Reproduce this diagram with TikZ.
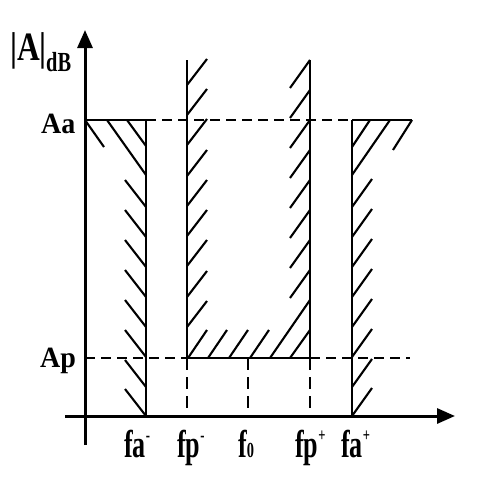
\documentclass[tikz,border=0pt]{standalone}
\usepackage{fontspec}
\setmainfont{Liberation Serif}
\usetikzlibrary{arrows.meta}
\newcommand\flab[1]{\scalebox{0.9}[1.34]{\fontsize{29}{29}\selectfont\bfseries #1}}
\newcommand\supx[1]{\raisebox{0.40em}{\fontsize{14}{14}\selectfont #1}}
\tikzset{
  axis/.style={line width=3pt,-{Triangle[length=18pt,width=15pt]}},
  solid line/.style={line width=2.2pt},
  dash line/.style={line width=2.2pt,dash pattern=on 10pt off 6pt},
  vdash line/.style={line width=1.8pt,dash pattern=on 12pt off 7pt},
  hatch/.style={line width=2.1pt},
  lbl/.style={inner sep=0pt,anchor=base west}
}
\begin{document}
\begin{tikzpicture}[x=1pt,y=-1pt]
\useasboundingbox (0,0) rectangle (490,490);
% key points
\coordinate (ybot) at (85,445);
\coordinate (ytop) at (85,30);
\coordinate (xl) at (65,416);
\coordinate (xr) at (455,416);
\coordinate (AaL) at (85,120);
\coordinate (faT) at (146,120);
\coordinate (faB) at (146,416);
\coordinate (faP) at (352,120);
\coordinate (faPB) at (352,416);
\coordinate (AaR) at (412,120);
\coordinate (fpT) at (187,60);
\coordinate (fpB) at (187,358);
\coordinate (fpA) at (187,416);
\coordinate (fppT) at (310,60);
\coordinate (fppB) at (310,358);
\coordinate (fppA) at (310,416);
\coordinate (f0B) at (248,358);
\coordinate (f0A) at (248,416);
\coordinate (ApL) at (85,358);
\coordinate (ApR) at (410,358);
% axes
\draw[axis] (ybot) -- (ytop);
\draw[axis] (xl) -- (xr);
% Aa level
\draw[solid line] (AaL) -- (faT);
\draw[dash line] (faT) -- (faP);
\draw[solid line] (faP) -- (AaR);
% Ap level
\draw[dash line] (ApL) -- (fpB);
\draw[solid line] (fpB) -- (fppB);
\draw[dash line] (fppB) -- (ApR);
% verticals
\draw[solid line] (faT) -- (faB);
\draw[solid line] (faP) -- (faPB);
\draw[solid line] (fpT) -- (fpB);
\draw[solid line] (fppT) -- (fppB);
\draw[vdash line] (fpB) -- (fpA);
\draw[vdash line] (fppB) -- (fppA);
\draw[vdash line] (f0B) -- (f0A);
% hatches: left stopband
\draw[hatch] (85,120) -- (104,147);
\draw[hatch] (107,120) -- (146,175);
\draw[hatch] (127,120) -- (146,146);
\foreach \y in {207,237,267,297,327,357,387,416}
  \draw[hatch] (125,\y-27) -- (146,\y);
% hatches: passband left edge
\foreach \y in {85,115,145,176,206,236,266,297,327}
  \draw[hatch] (187,\y) -- (207,\y-26);
% passband right edge
\foreach \y in {60,90,120,150,180,210,240,270}
  \draw[hatch] (290,\y+28) -- (310,\y);
% passband bottom
\foreach \x in {188,208,229,250}
  \draw[hatch] (\x,358) -- (\x+19,330);
\draw[hatch] (270,358) -- (310,300);
\draw[hatch] (290,358) -- (310,330);
% right stopband
\draw[hatch] (352,147) -- (370,120);
\draw[hatch] (352,175) -- (390,120);
\draw[hatch] (393,150) -- (412,120);
\foreach \y in {207,237,267,297,327,357,387,416}
  \draw[hatch] (352,\y) -- (372,\y-28);
% labels
\node[lbl] (absA) at (10,60) {\scalebox{0.9}[1.15]{\fontsize{35}{35}\selectfont\bfseries |A|}};
\node[lbl] (dB) at (46,71) {\scalebox{0.85}[1.15]{\fontsize{24}{24}\selectfont\bfseries dB}};
\node[lbl] (Aa) at (41,133) {\scalebox{1}[1.05]{\fontsize{28}{28}\selectfont\bfseries Aa}};
\node[lbl] (Ap) at (40,367) {\scalebox{1}[1.05]{\fontsize{28}{28}\selectfont\bfseries Ap}};
\node[lbl] (lfa) at (124,457) {\flab{fa\supx{-}}};
\node[lbl] (lfp) at (177,457) {\flab{fp\supx{-}}};
\node[lbl] (lf0) at (238,457) {\flab{f{\fontsize{16}{16}\selectfont 0}}};
\node[lbl] (lfpp) at (295,457) {\flab{fp\supx{+}}};
\node[lbl] (lfap) at (341,457) {\flab{fa\supx{+}}};
\end{tikzpicture}
\end{document}
